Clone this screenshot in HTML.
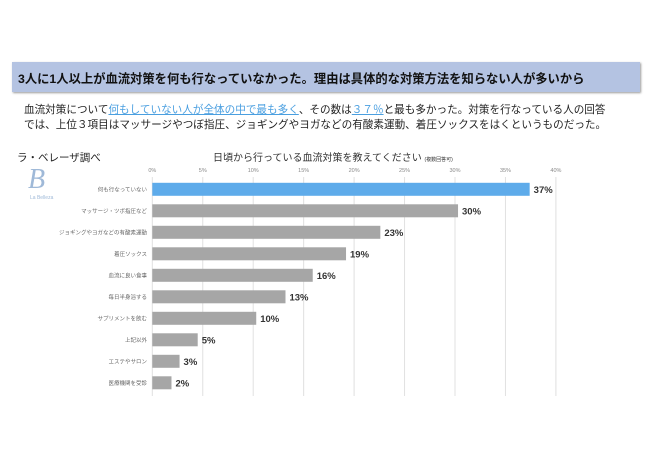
<!DOCTYPE html>
<html><head><meta charset="utf-8"><style>
body{margin:0;width:650px;height:460px;background:#fff;font-family:"Liberation Sans","Noto Sans CJK JP",sans-serif;position:relative;overflow:hidden}
.hdr{position:absolute;left:12px;top:62px;width:628px;height:30px;background:#b4c3e2;box-shadow:1px 1px 2px #999}
.hdr span{position:absolute;left:6px;top:7px;font-size:12.3px;font-weight:bold;color:#111;white-space:nowrap}
.para{position:absolute;left:24px;top:103px;font-size:10.6px;line-height:15px;color:#222;white-space:nowrap}
.para u{color:#4a9fe0}
.src{position:absolute;left:17px;top:150px;font-size:10.5px;color:#222}
.ctitle{position:absolute;left:213px;top:149px;font-size:10px;color:#333}
.ctitle small{font-size:5px}
.logo{position:absolute;left:28px;top:164px;font-family:"Liberation Serif",serif;font-style:italic;font-size:28px;color:#9fb9d8}
.logo2{position:absolute;left:30px;top:195px;font-size:5px;color:#9fb9d8}
</style></head><body>
<div class="hdr"><span>3人に1人以上が血流対策を何も行なっていなかった。理由は具体的な対策方法を知らない人が多いから</span></div>
<div class="para">血流対策について<u>何もしていない人が全体の中で最も多く</u>、その数は<u>３７％</u>と最も多かった。対策を行なっている人の回答<br>では、上位３項目はマッサージやつぼ指圧、ジョギングやヨガなどの有酸素運動、着圧ソックスをはくというものだった。</div>
<div class="src">ラ・ベレーザ調べ</div>
<div class="logo">B</div>
<div class="logo2">La Belleza</div>
<div class="ctitle">日頃から行っている血流対策を教えてください <small>(複数回答可)</small></div>
<svg id="chart" width="650" height="460" style="position:absolute;left:0;top:0"></svg>
<script>
const categories=["何も行なっていない","マッサージ・ツボ指圧など","ジョギングやヨガなどの有酸素運動","着圧ソックス","血流に良い食事","毎日半身浴する","サプリメントを飲む","上記以外","エステやサロン","医療機関を受診"];
const values=[37.4,30.3,22.6,19.2,15.9,13.2,10.3,4.5,2.7,1.9];
const valueLabels=["37%","30%","23%","19%","16%","13%","10%","5%","3%","2%"];
const ticks=[0,5,10,15,20,25,30,35,40];
const tickLabels=["0%","5%","10%","15%","20%","25%","30%","35%","40%"];
const svg=document.getElementById('chart');const NS='http://www.w3.org/2000/svg';
const x=v=>152.3+v*10.09;const y=i=>189.3+i*21.5;
function mk(t,a,txt){const e=document.createElementNS(NS,t);for(const k in a)e.setAttribute(k,a[k]);if(txt!=null)e.textContent=txt;svg.appendChild(e);return e;}
ticks.forEach((t,i)=>{
 const g=mk('line',{x1:x(t),x2:x(t),y1:177,y2:396,stroke:'#e0e0e0','stroke-width':1});
 
 
 const l=mk('text',{x:x(t),y:172,'font-size':5.5,fill:'#888','text-anchor':'middle'},tickLabels[i]);
 
 
});
categories.forEach((c,i)=>{
 const b=mk('rect',{x:x(0),y:y(i)-6.5,width:x(values[i])-x(0),height:13,fill:i==0?'#5eabea':'#a6a6a6'});
 
 
 const l=mk('text',{x:147,y:y(i)+2,'font-size':5.5,fill:'#666','text-anchor':'end'},c);
 
 
 const v=mk('text',{x:x(values[i])+4,y:y(i)+3.5,'font-size':9.5,'font-weight':'bold',fill:'#333'},valueLabels[i]);
 
 
});
</script>
</body></html>
